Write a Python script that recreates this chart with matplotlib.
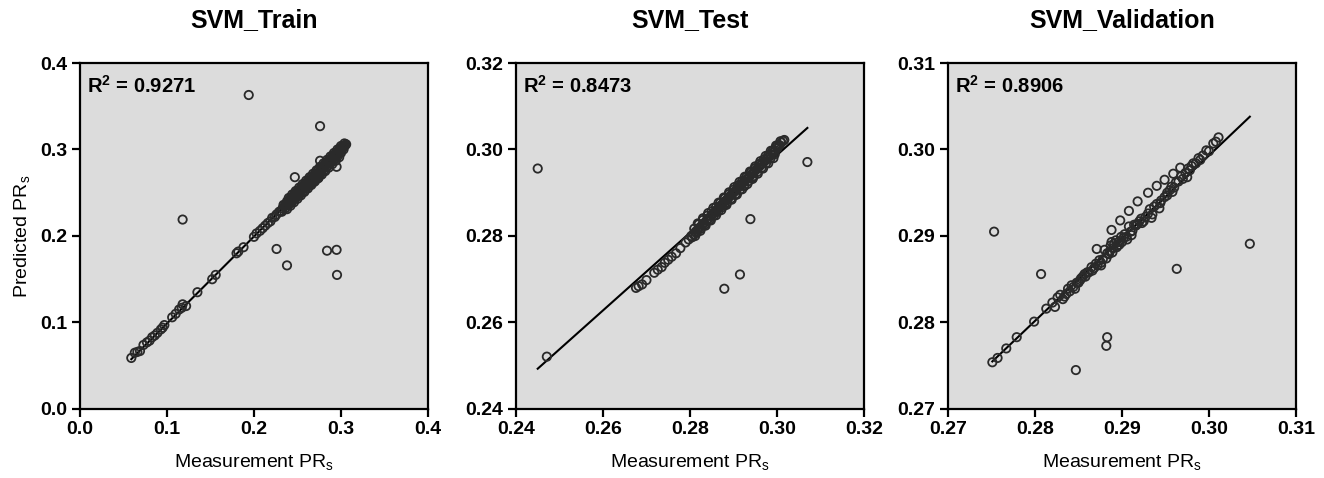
import matplotlib.pyplot as plt

# ---- data ----
titles = ["SVM_Train", "SVM_Test", "SVM_Validation"]
r2_values = ["0.9271", "0.8473", "0.8906"]
axis_limits = [(0.0, 0.4), (0.24, 0.32), (0.27, 0.31)]
tick_values = [
    [0.0, 0.1, 0.2, 0.3, 0.4],
    [0.24, 0.26, 0.28, 0.30, 0.32],
    [0.27, 0.28, 0.29, 0.30, 0.31],
]
tick_labels = [
    ["0.0", "0.1", "0.2", "0.3", "0.4"],
    ["0.24", "0.26", "0.28", "0.30", "0.32"],
    ["0.27", "0.28", "0.29", "0.30", "0.31"],
]
# fitted regression line (slope, intercept) per panel
fit_slope = [1.006, 0.898, 0.956]
fit_intercept = [-0.0018, 0.0293, 0.0125]

train_x = [0.059, 0.063, 0.066, 0.069, 0.073, 0.077, 0.080, 0.083, 0.086, 0.089,
           0.093, 0.095, 0.097, 0.106, 0.110, 0.114, 0.117, 0.118, 0.122, 0.135,
           0.152, 0.156, 0.180, 0.182, 0.188, 0.200, 0.203, 0.207, 0.210, 0.213,
           0.216, 0.219, 0.221, 0.224, 0.226, 0.229, 0.231, 0.233, 0.235, 0.236,
           0.238, 0.240, 0.241, 0.243, 0.245, 0.246, 0.248, 0.249, 0.251, 0.252,
           0.254, 0.255, 0.257, 0.258, 0.260, 0.261, 0.263, 0.264, 0.266, 0.267,
           0.269, 0.270, 0.272, 0.273, 0.275, 0.276, 0.278, 0.279, 0.281, 0.282,
           0.284, 0.285, 0.287, 0.288, 0.290, 0.291, 0.293, 0.294, 0.296, 0.297,
           0.299, 0.300, 0.301, 0.302, 0.303, 0.304, 0.305, 0.306, 0.268, 0.271,
           0.274,
           0.232, 0.236, 0.240, 0.244, 0.248, 0.252, 0.256, 0.260, 0.264, 0.268,
           0.272, 0.276, 0.280, 0.284, 0.288, 0.292, 0.296, 0.300, 0.303,
           0.234, 0.238, 0.242, 0.246, 0.250, 0.254, 0.258, 0.262, 0.266, 0.270,
           0.274, 0.278, 0.282, 0.286, 0.290, 0.294, 0.298, 0.302,
           0.238, 0.242, 0.246, 0.250, 0.254, 0.258, 0.262, 0.266, 0.270, 0.274,
           0.278, 0.282, 0.286, 0.290, 0.294, 0.298,
           0.240, 0.244, 0.248, 0.252, 0.256, 0.260, 0.264, 0.268, 0.272, 0.276,
           0.280, 0.284, 0.288, 0.292, 0.296, 0.300, 0.304,
           0.194, 0.118, 0.276, 0.276, 0.247, 0.295, 0.226, 0.238, 0.284, 0.295,
           0.2955]
train_y = [0.059, 0.065, 0.066, 0.067, 0.074, 0.077, 0.079, 0.083, 0.085, 0.088,
           0.092, 0.094, 0.097, 0.106, 0.110, 0.115, 0.117, 0.121, 0.119, 0.135,
           0.150, 0.155, 0.180, 0.182, 0.187, 0.199, 0.203, 0.206, 0.209, 0.212,
           0.215, 0.217, 0.221, 0.222, 0.225, 0.228, 0.229, 0.232, 0.234, 0.236,
           0.237, 0.238, 0.241, 0.242, 0.243, 0.246, 0.246, 0.249, 0.249, 0.252,
           0.252, 0.255, 0.255, 0.258, 0.258, 0.261, 0.260, 0.264, 0.263, 0.266,
           0.266, 0.270, 0.268, 0.272, 0.270, 0.275, 0.276, 0.278, 0.280, 0.282,
           0.283, 0.285, 0.286, 0.288, 0.289, 0.291, 0.292, 0.294, 0.295, 0.297,
           0.298, 0.300, 0.301, 0.302, 0.303, 0.304, 0.305, 0.306, 0.262, 0.265,
           0.267,
           0.228, 0.232, 0.236, 0.240, 0.244, 0.247, 0.251, 0.255, 0.259, 0.263,
           0.267, 0.271, 0.275, 0.280, 0.284, 0.288, 0.292, 0.296, 0.300,
           0.236, 0.240, 0.244, 0.248, 0.252, 0.256, 0.260, 0.264, 0.268, 0.272,
           0.276, 0.280, 0.284, 0.288, 0.292, 0.296, 0.300, 0.304,
           0.231, 0.235, 0.239, 0.243, 0.247, 0.251, 0.255, 0.259, 0.263, 0.267,
           0.271, 0.275, 0.279, 0.283, 0.287, 0.291,
           0.244, 0.248, 0.252, 0.256, 0.260, 0.264, 0.268, 0.272, 0.276, 0.280,
           0.284, 0.288, 0.292, 0.296, 0.300, 0.304, 0.307,
           0.363, 0.219, 0.327, 0.287, 0.268, 0.280, 0.185, 0.166, 0.183, 0.184,
           0.155]

test_x = [0.2676, 0.2682, 0.2690, 0.2700, 0.2718, 0.2726, 0.2735, 0.2742, 0.2750, 0.2758,
          0.2768, 0.2778, 0.2790, 0.2797, 0.2803, 0.2808, 0.2813, 0.2818, 0.2823, 0.2828,
          0.2833, 0.2838, 0.2843, 0.2848, 0.2853, 0.2858, 0.2862, 0.2867, 0.2872, 0.2876,
          0.2880, 0.2885, 0.2889, 0.2893, 0.2897, 0.2901, 0.2905, 0.2909, 0.2913, 0.2917,
          0.2921, 0.2925, 0.2929, 0.2933, 0.2937, 0.2941, 0.2945, 0.2949, 0.2953, 0.2957,
          0.2962, 0.2966, 0.2971, 0.2976, 0.2981, 0.2986, 0.2991, 0.2996, 0.3001, 0.3006,
          0.3010, 0.3014, 0.3017, 0.2905, 0.2925, 0.2945, 0.2880, 0.2860,
          0.2805, 0.2815, 0.2825, 0.2835, 0.2845, 0.2855, 0.2865, 0.2875, 0.2885, 0.2895,
          0.2905, 0.2915, 0.2925, 0.2935, 0.2945, 0.2955, 0.2965, 0.2975, 0.2985, 0.2995,
          0.2810, 0.2820, 0.2830, 0.2840, 0.2850, 0.2860, 0.2870, 0.2880, 0.2890, 0.2900,
          0.2910, 0.2920, 0.2930, 0.2940, 0.2950, 0.2960, 0.2970, 0.2980, 0.2990, 0.3000,
          0.2812, 0.2824, 0.2836, 0.2848, 0.2860, 0.2872, 0.2884, 0.2896, 0.2908, 0.2920,
          0.2932, 0.2944, 0.2956, 0.2968, 0.2980, 0.2992,
          0.2818, 0.2830, 0.2842, 0.2854, 0.2866, 0.2878, 0.2890, 0.2902, 0.2914, 0.2926,
          0.2938, 0.2950, 0.2962, 0.2974, 0.2986, 0.2998, 0.3008,
          0.2450, 0.2471, 0.3070, 0.2939, 0.2915, 0.2879]
test_y = [0.2680, 0.2684, 0.2688, 0.2698, 0.2715, 0.2722, 0.2728, 0.2738, 0.2745, 0.2752,
          0.2760, 0.2772, 0.2785, 0.2792, 0.2800, 0.2804, 0.2810, 0.2814, 0.2820, 0.2825,
          0.2830, 0.2835, 0.2840, 0.2846, 0.2851, 0.2856, 0.2861, 0.2866, 0.2871, 0.2876,
          0.2880, 0.2884, 0.2889, 0.2893, 0.2897, 0.2901, 0.2905, 0.2910, 0.2914, 0.2918,
          0.2922, 0.2926, 0.2930, 0.2934, 0.2938, 0.2942, 0.2946, 0.2950, 0.2954, 0.2958,
          0.2963, 0.2968, 0.2972, 0.2977, 0.2983, 0.2988, 0.2993, 0.2998, 0.3003, 0.3010,
          0.3016, 0.3020, 0.3022, 0.2895, 0.2915, 0.2935, 0.2872, 0.2855,
          0.2797, 0.2807, 0.2817, 0.2827, 0.2837, 0.2847, 0.2857, 0.2867, 0.2877, 0.2887,
          0.2897, 0.2907, 0.2917, 0.2927, 0.2938, 0.2948, 0.2958, 0.2968, 0.2979, 0.2989,
          0.2817, 0.2827, 0.2837, 0.2847, 0.2857, 0.2867, 0.2877, 0.2887, 0.2897, 0.2907,
          0.2917, 0.2927, 0.2937, 0.2947, 0.2957, 0.2967, 0.2977, 0.2987, 0.2997, 0.3007,
          0.2800, 0.2812, 0.2824, 0.2836, 0.2848, 0.2860, 0.2872, 0.2884, 0.2896, 0.2908,
          0.2920, 0.2932, 0.2944, 0.2956, 0.2968, 0.2980,
          0.2829, 0.2841, 0.2853, 0.2865, 0.2877, 0.2889, 0.2901, 0.2913, 0.2925, 0.2937,
          0.2949, 0.2961, 0.2973, 0.2985, 0.2997, 0.3009, 0.3019,
          0.2956, 0.2521, 0.2971, 0.2839, 0.2711, 0.2678]

val_x = [0.2751, 0.2757, 0.2767, 0.2779, 0.2799, 0.2813, 0.2823, 0.2829, 0.2832, 0.2844,
         0.2853, 0.2857, 0.2868, 0.2876, 0.2883, 0.2891, 0.2899, 0.2908, 0.2922, 0.2930,
         0.2937, 0.2949, 0.2957, 0.2968, 0.2976, 0.2988, 0.2997, 0.3005, 0.3011, 0.2886,
         0.2888, 0.2894, 0.2896, 0.2902, 0.2912, 0.2925, 0.2935, 0.2944, 0.2962, 0.2982,
         0.2860, 0.2872, 0.2840, 0.2848, 0.2916, 0.2952, 0.2993,
         0.2820, 0.2826, 0.2834, 0.2838, 0.2842, 0.2850, 0.2855, 0.2862, 0.2865, 0.2870,
         0.2874, 0.2878, 0.2880, 0.2885, 0.2887, 0.2890, 0.2893, 0.2895, 0.2900, 0.2903,
         0.2905, 0.2910, 0.2914, 0.2918, 0.2920, 0.2927, 0.2932, 0.2940, 0.2945, 0.2952,
         0.2955, 0.2960, 0.2965, 0.2970, 0.2973, 0.2978, 0.2980, 0.2985, 0.2990, 0.3000,
         0.3008,
         0.2836, 0.2846, 0.2852, 0.2858, 0.2866, 0.2876, 0.2882, 0.2889, 0.2897, 0.2906,
         0.2911, 0.2923, 0.2934, 0.2943, 0.2958, 0.2975,
         0.2888, 0.2898, 0.2908, 0.2918, 0.2930, 0.2940, 0.2949, 0.2959, 0.2967, 0.2871,
         0.2753, 0.2807, 0.2847, 0.2883, 0.2882, 0.2963, 0.3047]
val_y = [0.2754, 0.2759, 0.2770, 0.2783, 0.2801, 0.2816, 0.2818, 0.2832, 0.2827, 0.2841,
         0.2851, 0.2856, 0.2863, 0.2869, 0.2880, 0.2891, 0.2899, 0.2911, 0.2920, 0.2926,
         0.2934, 0.2945, 0.2957, 0.2969, 0.2978, 0.2990, 0.2999, 0.3007, 0.3014, 0.2882,
         0.2893, 0.2887, 0.2893, 0.2898, 0.2906, 0.2917, 0.2925, 0.2938, 0.2962, 0.2984,
         0.2858, 0.2866, 0.2836, 0.2846, 0.2912, 0.2950, 0.2993,
         0.2823, 0.2829, 0.2830, 0.2839, 0.2843, 0.2846, 0.2853, 0.2858, 0.2864, 0.2868,
         0.2872, 0.2873, 0.2884, 0.2879, 0.2889, 0.2886, 0.2895, 0.2889, 0.2893, 0.2902,
         0.2899, 0.2905, 0.2913, 0.2914, 0.2917, 0.2922, 0.2931, 0.2937, 0.2941, 0.2947,
         0.2953, 0.2956, 0.2963, 0.2966, 0.2973, 0.2976, 0.2981, 0.2984, 0.2988, 0.2998,
         0.3009,
         0.2833, 0.2839, 0.2849, 0.2853, 0.2860, 0.2866, 0.2874, 0.2881, 0.2890, 0.2896,
         0.2901, 0.2915, 0.2921, 0.2932, 0.2951, 0.2968,
         0.2907, 0.2918, 0.2929, 0.2940, 0.2950, 0.2958, 0.2965, 0.2972, 0.2979, 0.2885,
         0.2905, 0.2856, 0.2745, 0.2783, 0.2773, 0.2862, 0.2891]

panel_x = [train_x, test_x, val_x]
panel_y = [train_y, test_y, val_y]

plt.rcParams['font.family'] = ['Liberation Sans', 'DejaVu Sans']
plt.rcParams['mathtext.fontset'] = 'custom'
plt.rcParams['mathtext.rm'] = 'Liberation Sans'
plt.rcParams['mathtext.it'] = 'Liberation Sans:italic'
plt.rcParams['mathtext.bf'] = 'Liberation Sans:bold'

fig = plt.figure(figsize=(13.24, 4.78), dpi=100)
lefts = [0.0604, 0.3897, 0.716]

for i in range(3):
    ax = fig.add_axes([lefts[i], 0.1444, 0.2628, 0.7238])
    ax.set_facecolor('#dcdcdc')
    lo, hi = axis_limits[i]
    ax.set_xlim(lo, hi)
    ax.set_ylim(lo, hi)

    xs = panel_x[i]
    x0, x1 = min(xs), max(xs)
    ax.plot([x0, x1],
            [fit_slope[i] * x0 + fit_intercept[i], fit_slope[i] * x1 + fit_intercept[i]],
            color='black', lw=1.5, zorder=2)
    ax.scatter(xs, panel_y[i], s=36, facecolors='none', edgecolors='#2a2a2a',
               linewidths=1.3, zorder=3)

    ax.set_xticks(tick_values[i])
    ax.set_xticklabels(tick_labels[i])
    ax.set_yticks(tick_values[i])
    ax.set_yticklabels(tick_labels[i])
    for lab in ax.get_xticklabels() + ax.get_yticklabels():
        lab.set_fontweight('bold')
        lab.set_fontsize(14)
    ax.tick_params(direction='out', length=6, width=1.6, color='black', pad=3)
    for sp in ax.spines.values():
        sp.set_linewidth(1.6)
        sp.set_color('black')

    ax.set_title(titles[i], fontsize=18, fontweight='bold', pad=26)
    ax.set_xlabel('Measurement PR$_\\mathrm{s}$', fontsize=14, labelpad=10)
    if i == 0:
        ax.set_ylabel('Predicted PR$_\\mathrm{s}$', fontsize=14, labelpad=6)
    ax.text(0.02, 0.965, 'R$^\\mathbf{2}$ = ' + r2_values[i], transform=ax.transAxes,
            fontsize=14.5, fontweight='bold', va='top', ha='left')

fig.savefig('out.png', dpi=100)
